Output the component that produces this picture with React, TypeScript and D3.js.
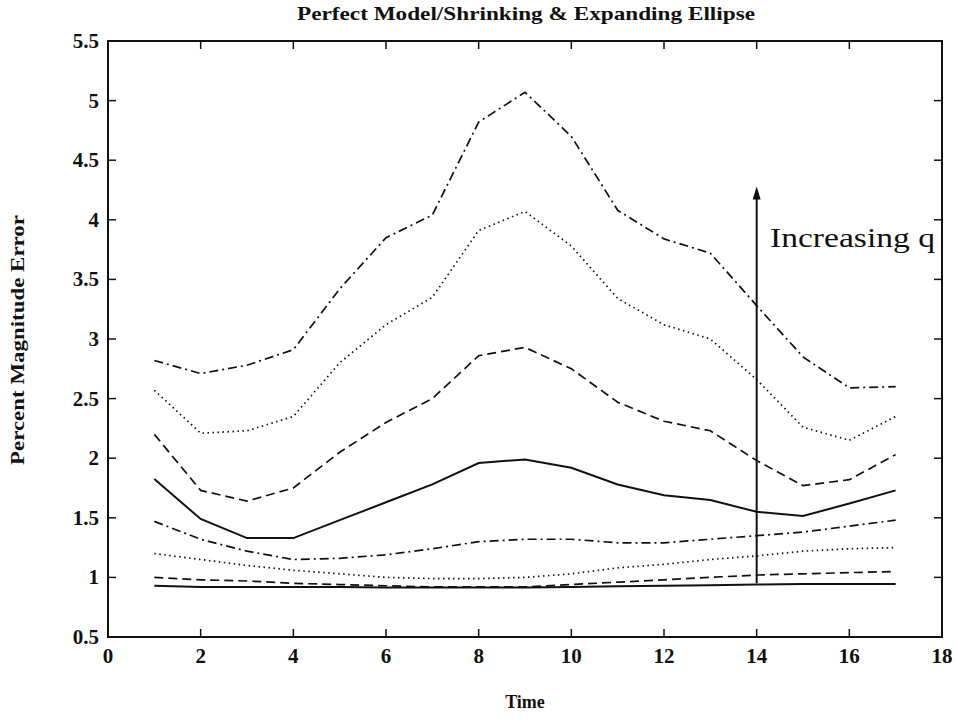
import React from "react";
import * as d3 from "d3";

const times = [1, 2, 3, 4, 5, 6, 7, 8, 9, 10, 11, 12, 13, 14, 15, 16, 17];
const s1 = [0.93, 0.92, 0.92, 0.92, 0.92, 0.915, 0.915, 0.915, 0.915, 0.92, 0.925, 0.93, 0.935, 0.94, 0.945, 0.945, 0.945];
const s2 = [1.0, 0.98, 0.97, 0.95, 0.94, 0.93, 0.92, 0.92, 0.92, 0.94, 0.96, 0.98, 1.0, 1.02, 1.03, 1.04, 1.05];
const s3 = [1.2, 1.15, 1.1, 1.06, 1.03, 1.0, 0.99, 0.99, 1.0, 1.03, 1.08, 1.11, 1.15, 1.18, 1.22, 1.24, 1.25];
const s4 = [1.47, 1.32, 1.22, 1.15, 1.16, 1.19, 1.24, 1.3, 1.32, 1.32, 1.29, 1.29, 1.32, 1.35, 1.38, 1.43, 1.48];
const s5 = [1.825, 1.49, 1.33, 1.33, 1.48, 1.63, 1.78, 1.96, 1.99, 1.92, 1.78, 1.69, 1.65, 1.55, 1.515, 1.62, 1.73];
const s6 = [2.2, 1.73, 1.64, 1.75, 2.05, 2.3, 2.5, 2.86, 2.93, 2.75, 2.47, 2.31, 2.23, 1.98, 1.77, 1.82, 2.03];
const s7 = [2.57, 2.21, 2.23, 2.35, 2.8, 3.12, 3.35, 3.91, 4.07, 3.78, 3.34, 3.12, 3.0, 2.66, 2.26, 2.15, 2.35];
const s8 = [2.82, 2.71, 2.78, 2.91, 3.42, 3.85, 4.04, 4.82, 5.07, 4.7, 4.08, 3.84, 3.72, 3.28, 2.85, 2.59, 2.6];

const seriesList = [s1, s2, s3, s4, s5, s6, s7, s8];
const dashes = ["none", "9,5", "1.5,3.5", "9,4,2,4", "none", "9,5", "1.5,3.5", "9,4,2,4"];

const xTicks = [0, 2, 4, 6, 8, 10, 12, 14, 16, 18];
const yTicks = [0.5, 1, 1.5, 2, 2.5, 3, 3.5, 4, 4.5, 5, 5.5];

const title = "Perfect Model/Shrinking & Expanding Ellipse";
const xLabel = "Time";
const yLabel = "Percent Magnitude Error";
const annotation = "Increasing q";
const arrowX = 14;
const arrowFrom = 0.95;
const arrowTo = 4.28;

export default function App() {
  const W = 958, H = 719;
  const L = 108, R = 942, T = 41, B = 637;
  const x = d3.scaleLinear().domain([0, 18]).range([L, R]);
  const y = d3.scaleLinear().domain([0.5, 5.5]).range([B, T]);
  const line = d3.line<number>().x((_, i) => x(times[i])).y((d) => y(d));
  const ff = { fontFamily: "'Liberation Serif', 'Times New Roman', serif" };
  const tk = 8;
  return (
    <svg width={W} height={H} style={{ position: "absolute", left: 0, top: 0, background: "#fff" }}>
      <rect x={0} y={0} width={W} height={H} fill="#fff" />
      <text x={526} y={20} textAnchor="middle" fontSize={19} fontWeight="bold" fill="#111" style={ff}
        textLength={458} lengthAdjust="spacingAndGlyphs">{title}</text>
      {seriesList.map((s, i) => (
        <path key={i} d={line(s) || ""} fill="none" stroke="#111" strokeWidth={i === 0 || i === 4 ? 2 : 1.7}
          strokeDasharray={dashes[i]} />
      ))}
      <rect x={L} y={T} width={R - L} height={B - T} fill="none" stroke="#111" strokeWidth={2} />
      {xTicks.map((t) => (
        <g key={"x" + t}>
          <line x1={x(t)} x2={x(t)} y1={B} y2={B - tk} stroke="#111" strokeWidth={1.5} />
          <line x1={x(t)} x2={x(t)} y1={T} y2={T + tk} stroke="#111" strokeWidth={1.5} />
          <text x={x(t)} y={663} textAnchor="middle" fontSize={21} fontWeight="bold" fill="#111" style={ff}>{t}</text>
        </g>
      ))}
      {yTicks.map((t) => (
        <g key={"y" + t}>
          <line x1={L} x2={L + tk} y1={y(t)} y2={y(t)} stroke="#111" strokeWidth={1.5} />
          <line x1={R} x2={R - tk} y1={y(t)} y2={y(t)} stroke="#111" strokeWidth={1.5} />
          <text x={99} y={y(t) + 7} textAnchor="end" fontSize={21} fontWeight="bold" fill="#111" style={ff}>{t}</text>
        </g>
      ))}
      <text x={525} y={708} textAnchor="middle" fontSize={18} fontWeight="bold" fill="#111" style={ff}>{xLabel}</text>
      <text transform={`translate(24,340) rotate(-90)`} textAnchor="middle" fontSize={18} fontWeight="bold" fill="#111"
        style={ff} textLength={250} lengthAdjust="spacingAndGlyphs">{yLabel}</text>
      <line x1={x(arrowX)} x2={x(arrowX)} y1={y(arrowFrom)} y2={y(arrowTo) + 10} stroke="#111" strokeWidth={2} />
      <path d={`M${x(arrowX)},${y(arrowTo)} L${x(arrowX) - 4},${y(arrowTo) + 13} L${x(arrowX) + 4},${y(arrowTo) + 13} Z`} fill="#111" />
      <text x={770} y={247} fontSize={27} fill="#111" style={ff} textLength={165} lengthAdjust="spacingAndGlyphs">{annotation}</text>
    </svg>
  );
}
